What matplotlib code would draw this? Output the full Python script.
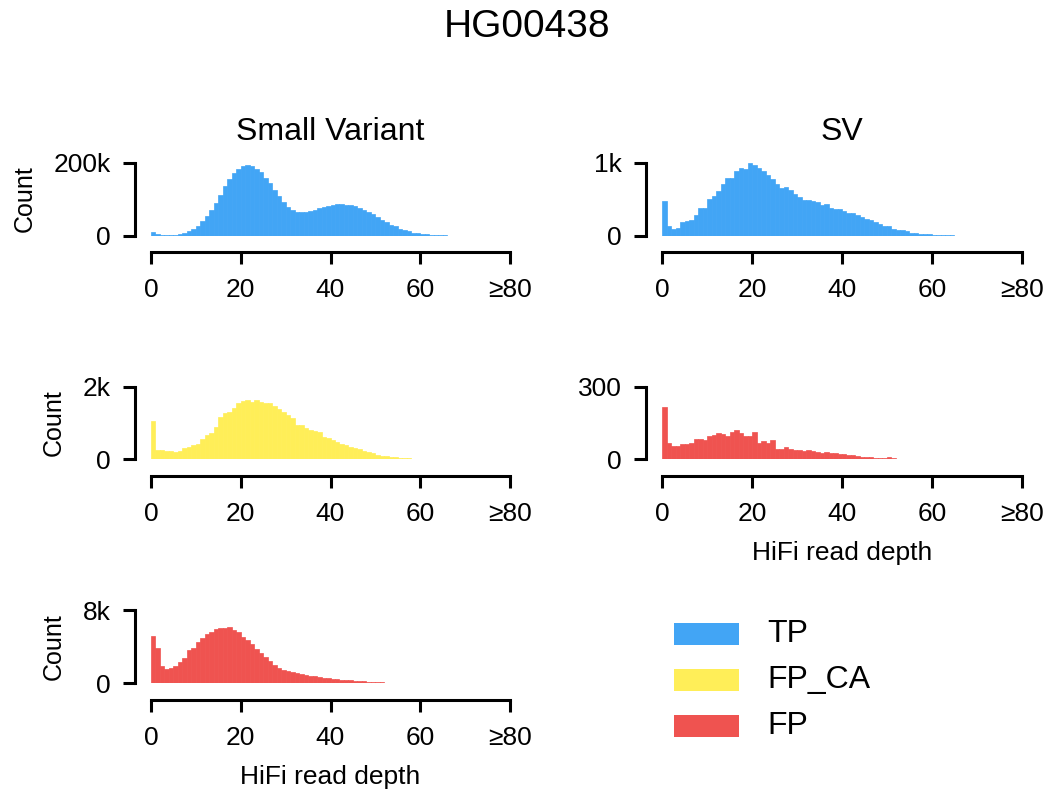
import numpy as np
import matplotlib
matplotlib.use("Agg")
import matplotlib.pyplot as plt
from matplotlib.patches import Rectangle

plt.rcParams['font.family'] = ['Liberation Sans', 'DejaVu Sans']

# ---------------- data ----------------
depth_bins = list(range(80))          # bin k covers depth [k, k+1); last = >=80
x_ticks = [0, 20, 40, 60, 80]
x_tick_labels = ['0', '20', '40', '60', '≥80']

# Small variant TP (counts in thousands)
tp_small_k = [9, 3, 1, 1, 1, 2, 5, 7, 11, 17, 25, 39, 53, 69, 89, 112, 136, 154, 172, 182,
              191, 193, 191, 184, 175, 159, 143, 126, 108, 92, 78, 69, 65, 64, 65, 67, 71, 75, 78, 81,
              84, 86, 86, 85, 83, 80, 76, 71, 65, 58, 51, 43, 37, 30, 25, 19, 15, 11, 8, 6,
              5, 3, 2, 1, 1, 0.5, 0, 0, 0, 0, 0, 0, 0, 0, 0, 0, 0, 0, 0, 0]

# SV TP
tp_sv = [475, 134, 88, 97, 180, 198, 212, 276, 378, 378, 507, 539, 613, 714, 783, 783, 885, 922, 912, 1000,
         968, 922, 889, 829, 770, 714, 654, 668, 622, 576, 530, 493, 484, 475, 461, 415, 438, 382, 359, 364,
         336, 313, 309, 276, 253, 230, 207, 184, 161, 129, 124, 83, 74, 69, 60, 41, 32, 23, 18, 14,
         9, 9, 5, 5, 2, 0, 0, 0, 0, 0, 0, 0, 0, 0, 0, 0, 0, 0, 0, 0]

# Small variant FP_CA
fpca_small = [1064, 257, 248, 239, 220, 211, 239, 303, 330, 394, 422, 550, 661, 734, 899, 1174, 1266, 1312, 1422, 1541,
              1615, 1633, 1569, 1633, 1587, 1560, 1541, 1477, 1376, 1312, 1220, 1147, 945, 936, 853, 807, 780, 752, 624, 578,
              532, 486, 422, 394, 349, 303, 275, 239, 211, 165, 119, 92, 83, 73, 55, 46, 37, 28, 18, 18,
              9, 9, 9, 9, 9, 9, 6, 4, 0, 0, 0, 0, 0, 0, 0, 4, 0, 0, 0, 4]

# SV FP
fp_sv = [218, 68, 55, 55, 63, 65, 67, 85, 83, 79, 98, 100, 110, 106, 95, 113, 120, 110, 97, 97,
         113, 68, 76, 68, 79, 42, 42, 49, 41, 38, 38, 33, 38, 35, 29, 27, 29, 25, 25, 20,
         22, 19, 19, 14, 11, 11, 8, 7, 5, 5, 8, 4, 3, 2, 2, 2, 2, 2, 0, 0,
         0, 0, 2, 2, 2, 0, 0, 0, 0, 0, 0, 2, 0, 0, 0, 2, 0, 0, 2, 2]

# Small variant FP
fp_small = [5200, 3890, 1927, 1564, 1709, 1927, 2290, 2800, 3600, 3818, 4545, 4982, 5345, 5564, 5927, 6000, 6073, 6145, 5855, 5564,
            5091, 4727, 4255, 3709, 3273, 2909, 2436, 2000, 1709, 1491, 1382, 1273, 1127, 1018, 909, 836, 764, 691, 618, 582,
            509, 473, 400, 364, 327, 291, 255, 218, 182, 145, 120, 109, 80, 60, 45, 40, 30, 25, 0, 0,
            0, 0, 0, 0, 0, 0, 0, 0, 0, 0, 0, 0, 0, 0, 0, 0, 0, 0, 0, 0]

legend_labels = ['TP', 'FP_CA', 'FP']
c_tp = '#42A5F5'
c_fpca = '#FFEE58'
c_fp = '#EF5350'

# ---------------- figure ----------------
W, H = 1045, 792
fig = plt.figure(figsize=(W / 100, H / 100), dpi=100)


def make_ax(xl, xr, yt, yb):
    return fig.add_axes([xl / W, 1 - yb / H, (xr - xl) / W, (yb - yt) / H])


def style(ax, ymax, ylabels, show_ylabel=True, show_xlabel=False):
    ax.set_xlim(0, 80)
    ax.set_ylim(0, ymax)
    for s in ['top', 'right']:
        ax.spines[s].set_visible(False)
    ax.spines['left'].set_position(('outward', 11.5))
    ax.spines['bottom'].set_position(('outward', 12.2))
    ax.spines['left'].set_bounds(0, ymax)
    ax.spines['bottom'].set_bounds(0, 80)
    for s in ['left', 'bottom']:
        ax.spines[s].set_linewidth(2.2)
    ax.set_yticks([0, ymax])
    ax.set_yticklabels(ylabels)
    ax.set_xticks(x_ticks)
    ax.set_xticklabels(x_tick_labels)
    ax.tick_params(axis='both', direction='out', length=8.6, width=2.2)
    ax.tick_params(axis='y', labelsize=19, pad=9)
    ax.tick_params(axis='x', labelsize=19, pad=10)
    if show_ylabel:
        ax.set_ylabel('Count', fontsize=18, labelpad=12)
    if show_xlabel:
        ax.set_xlabel('HiFi read depth', fontsize=19, labelpad=11)


def draw(ax, vals, color):
    xs = [b for b, v in zip(depth_bins, vals) if v > 0]
    hs = [v for v in vals if v > 0]
    ax.bar(xs, hs, width=1.0, align='edge', color=color,
           edgecolor=color, linewidth=0.5, clip_on=True)


LX0, LX1 = 151, 510
RX0, RX1 = 662.3, 1021.7
rows = [(162.7, 235.5), (386.7, 459.3), (610, 683.3)]

ax1 = make_ax(LX0, LX1, *rows[0])
draw(ax1, [v * 1000 for v in tp_small_k], c_tp)
style(ax1, 200000, ['0', '200k'])
ax1.set_title('Small Variant', fontsize=23, pad=16.5)

ax2 = make_ax(RX0, RX1, *rows[0])
draw(ax2, tp_sv, c_tp)
style(ax2, 1000, ['0', '1k'], show_ylabel=False)
ax2.set_title('SV', fontsize=23, pad=16.5)

ax3 = make_ax(LX0, LX1, *rows[1])
draw(ax3, fpca_small, c_fpca)
style(ax3, 2000, ['0', '2k'])

ax4 = make_ax(RX0, RX1, *rows[1])
draw(ax4, fp_sv, c_fp)
style(ax4, 300, ['0', '300'], show_ylabel=False, show_xlabel=True)

ax5 = make_ax(LX0, LX1, *rows[2])
draw(ax5, fp_small, c_fp)
style(ax5, 8000, ['0', '8k'], show_xlabel=True)

fig.text(0.504, 1 - 37.3 / H, 'HG00438', ha='center', va='baseline', fontsize=28)

# legend
for lab, col, yc in zip(legend_labels, [c_tp, c_fpca, c_fp], [634, 680, 726]):
    fig.patches.append(Rectangle((674 / W, 1 - (yc + 11) / H), 65 / W, 22 / H,
                                 transform=fig.transFigure, facecolor=col, edgecolor='none'))
    fig.text(767 / W, 1 - yc / H, lab, ha='left', va='center', fontsize=23)

fig.savefig('out.png', dpi=100)
